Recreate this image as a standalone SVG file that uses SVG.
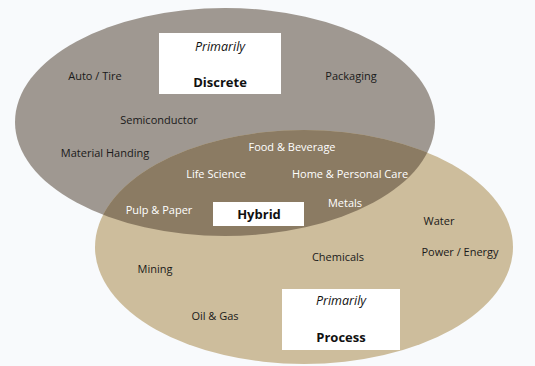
<svg xmlns="http://www.w3.org/2000/svg" width="535" height="366" viewBox="0 0 535 366">
<defs>
<style>
.lbl{font-family:"Open Sans","Noto Sans",sans-serif;font-size:11px;fill:#1a1a1a;text-anchor:middle}
.wl{fill:#ffffff}
.it{font-family:"Open Sans","Noto Sans",sans-serif;font-size:12.5px;font-style:italic;fill:#111;text-anchor:middle}
.bd{font-family:"Open Sans","Noto Sans",sans-serif;font-size:13px;font-weight:bold;fill:#111;text-anchor:middle}
.box{fill:#ffffff}
</style>
<clipPath id="clipTop"><ellipse cx="225" cy="122" rx="210" ry="114"/></clipPath>
</defs>
<rect width="535" height="366" fill="#f8fafc"/>
<g id="discrete-set"><ellipse cx="225" cy="122" rx="210" ry="114" fill="#9f9891"/></g>
<g id="process-set"><ellipse cx="304" cy="247" rx="209" ry="117" fill="#cdbd9c"/></g>
<g id="hybrid-set"><ellipse cx="304" cy="247" rx="209" ry="117" fill="#8b7b63" clip-path="url(#clipTop)"/></g>
<g id="discrete-box"><rect class="box" x="159" y="33" width="122" height="61"/><text class="it" x="220" y="51">Primarily</text><text class="bd" x="220" y="87">Discrete</text></g>
<g id="hybrid-box"><rect class="box" x="213" y="202" width="91" height="24"/><text class="bd" x="259" y="219">Hybrid</text></g>
<g id="process-box"><rect class="box" x="282" y="289" width="118" height="61"/><text class="it" x="341" y="305">Primarily</text><text class="bd" x="341" y="342">Process</text></g>
<g id="labels">
<text class="lbl" x="95" y="80">Auto / Tire</text>
<text class="lbl" x="351" y="80">Packaging</text>
<text class="lbl" x="159" y="124">Semiconductor</text>
<text class="lbl" x="105" y="157">Material Handing</text>
<text class="lbl wl" x="292" y="151">Food &amp; Beverage</text>
<text class="lbl wl" x="216" y="178">Life Science</text>
<text class="lbl wl" x="350" y="178">Home &amp; Personal Care</text>
<text class="lbl wl" x="159" y="214">Pulp &amp; Paper</text>
<text class="lbl wl" x="345" y="207">Metals</text>
<text class="lbl" x="439" y="225">Water</text>
<text class="lbl" x="460" y="256">Power / Energy</text>
<text class="lbl" x="338" y="261">Chemicals</text>
<text class="lbl" x="155" y="273">Mining</text>
<text class="lbl" x="215" y="320">Oil &amp; Gas</text>
</g>
<g id="connectors"></g>
</svg>
